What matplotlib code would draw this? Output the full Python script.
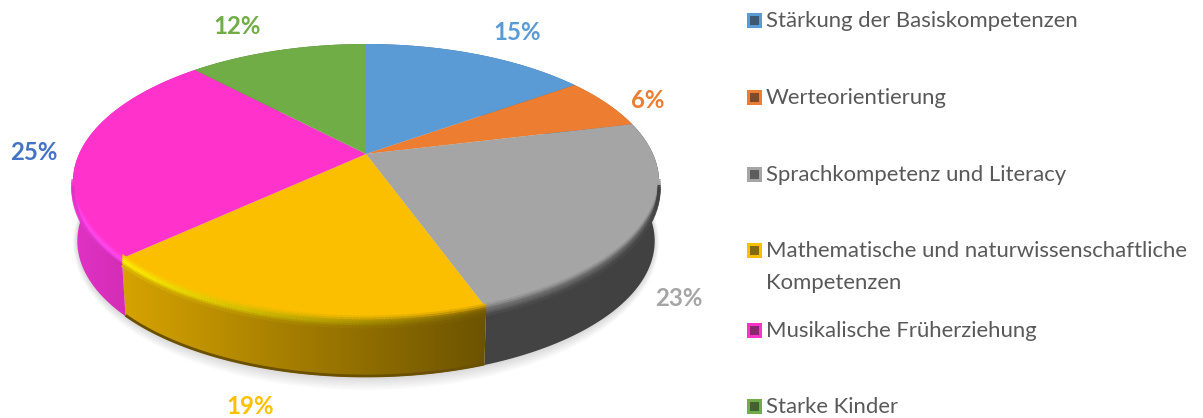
import numpy as np
import matplotlib
matplotlib.use('Agg')
import matplotlib.pyplot as plt
from matplotlib.patches import Polygon, Rectangle
from matplotlib.colors import LinearSegmentedColormap, to_rgb
from matplotlib.collections import LineCollection

plt.rcParams['font.family'] = ['Lato', 'DejaVu Sans']

# chart data
categories = ['Stärkung der Basiskompetenzen', 'Werteorientierung', 'Sprachkompetenz und Literacy',
              'Mathematische und naturwissenschaftliche\nKompetenzen', 'Musikalische Früherziehung', 'Starke Kinder']
shares = [15.1, 6.1, 23.3, 18.6, 24.9, 12.0]
labels = ['15%', '6%', '23%', '19%', '25%', '12%']
colors = ['#5b9bd5', '#ed7d31', '#a5a5a5', '#fbbf00', '#ff33cc', '#70ad47']
label_colors = ['#5b9bd5', '#ed7d31', '#a5a5a5', '#ffc000', '#4472c4', '#70ad47']

# side shading per slice, left to right
side_left = ['#3f6f9c', '#b05c22', '#444444', '#d6a300', '#e032c4', '#4f7c32']
side_right = ['#3f6f9c', '#b05c22', '#414141', '#6c5300', '#c426a4', '#4f7c32']
rim_left = ['#5b9bd5', '#ed7d31', '#6a6a6a', '#fff000', '#ff48f0', '#70ad47']
rim_right = ['#5b9bd5', '#ed7d31', '#5a5a5a', '#7a5e00', '#ff48f0', '#70ad47']

label_x = [517, 648, 679, 250, 34, 237]
label_y = [33, 101, 298, 406, 153, 27]
legend_y = [20, 97, 174, 250, 330, 406]

# tilted disc with perspective
cx, cy = 366, 154
k = 0.2029
sx, sy = 287, 132.3
depth = 59.5


def project(t, dy=0.0, s=1.0):
    x = np.sin(t)
    y = np.cos(t)
    d = 1 + k * y
    return cx + s * sx * x / d, cy + dy - s * sy * y / d


def mix(a, b, f):
    a, b = np.array(to_rgb(a)), np.array(to_rgb(b))
    return tuple(a + (b - a) * f)


fig = plt.figure(figsize=(12.03, 4.18), dpi=100)
ax = fig.add_axes([0, 0, 1, 1])

# soft shadow under the disc
tt = np.linspace(0, 2 * np.pi, 200)
for grow in np.arange(12, 0, -2):
    px, py = project(tt, dy=depth, s=0.985)
    pm = (px.mean(), py.mean())
    poly = np.column_stack([pm[0] + (px - pm[0]) * (1 + grow / 800), pm[1] + (py - pm[1]) * (1 + grow / 140)])
    ax.add_patch(Polygon(poly, closed=True, fc='#000000', ec='none', alpha=0.022, zorder=1))

fractions = np.cumsum([0] + shares) / sum(shares)
angles = fractions * 2 * np.pi

# sides first, then top faces
for i in range(len(shares)):
    t = np.linspace(angles[i], angles[i + 1], 80)
    tx, ty = project(t)
    bx, by = project(t, dy=depth, s=0.985)
    poly = np.column_stack([np.r_[tx, bx[::-1]], np.r_[ty, by[::-1]]])
    patch = Polygon(poly, closed=True, fc='none', ec='none', zorder=2)
    ax.add_patch(patch)
    cmap = LinearSegmentedColormap.from_list('s', [side_left[i], side_right[i]])
    x0, x1 = poly[:, 0].min(), poly[:, 0].max()
    y0, y1 = poly[:, 1].min(), poly[:, 1].max()
    im = ax.imshow(np.linspace(0, 1, 256).reshape(1, -1), cmap=cmap, aspect='auto',
                   extent=[x0, x1, y1, y0], zorder=2)
    im.set_clip_path(patch)

    # darker lower edge of the side
    if i == 3:
        ax.plot(bx, by - 1, color='#6a5000', lw=2, zorder=3, solid_capstyle='butt')

for i in range(len(shares)):
    t = np.linspace(angles[i], angles[i + 1], 120)
    px, py = project(t)
    poly = np.column_stack([np.r_[cx, px], np.r_[cy, py]])
    ax.add_patch(Polygon(poly, closed=True, fc=colors[i], ec='none', zorder=4))

# bevel along the front rim, only where the wall is visible
t_start, t_end = np.pi * 0.565, np.pi * 1.435
for i in [2, 3, 4]:
    t = np.linspace(max(angles[i], t_start), min(angles[i + 1], t_end), 120)
    env = np.clip(np.minimum(t - t_start, t_end - t) / 0.25, 0, 1)
    for off, w in [(-4.5, 0.2), (-2.5, 0.5), (-0.5, 0.85), (1.5, 1.0), (3.5, 0.6), (5.5, 0.2)]:
        px, py = project(t, dy=off + 1.5)
        pts = np.column_stack([px, py])
        segs = np.stack([pts[:-1], pts[1:]], axis=1)
        f = (px[:-1] - px.min()) / (px.max() - px.min())
        seg_cols = []
        for j, ff in enumerate(f):
            c = mix(rim_left[i], rim_right[i], ff)
            under = colors[i] if off < 0.5 else mix(side_left[i], side_right[i], ff)
            seg_cols.append(mix(under, c, w * env[j]))
        ax.add_collection(LineCollection(segs, colors=seg_cols, linewidths=2.2, zorder=5, capstyle='butt'))

# data labels
for i in range(len(labels)):
    ax.text(label_x[i], label_y[i], labels[i], color=label_colors[i], fontsize=17.3,
            fontweight='bold', ha='center', va='center', zorder=6)

# legend
for i in range(len(categories)):
    ym = legend_y[i]
    ax.add_patch(Rectangle((747, ym - 7), 15, 15, fc=colors[i], ec='none', zorder=6))
    ax.add_patch(Rectangle((750, ym - 4), 9, 9, fc=mix(colors[i], '#222222', 0.55), ec='none', zorder=7))
    ax.text(766, ym - 9, categories[i], color='#595959', fontsize=15.9, ha='left', va='top',
            linespacing=1.72, zorder=6)

ax.set_xlim(0, 1203)
ax.set_ylim(418, 0)
ax.axis('off')

plt.savefig('out.png', dpi=100)
